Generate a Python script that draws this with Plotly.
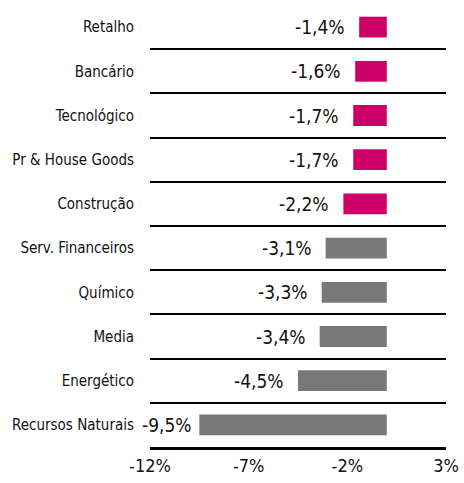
import plotly.graph_objects as go

categories = ["Retalho", "Bancário", "Tecnológico", "Pr & House Goods", "Construção",
              "Serv. Financeiros", "Químico", "Media", "Energético", "Recursos Naturais"]
values = [-1.4, -1.6, -1.7, -1.7, -2.2, -3.1, -3.3, -3.4, -4.5, -9.5]
bar_colors = ["#CC0066"] * 5 + ["#787878"] * 5
tick_vals = [-12, -7, -2, 3]
tick_text = ["-12%", "-7%", "-2%", "3%"]

FONT = "Liberation Sans Narrow, Arial Narrow, DejaVu Sans Condensed, sans-serif"

fig = go.Figure(go.Bar(
    x=values, y=categories, orientation="h",
    marker=dict(color=bar_colors, line=dict(width=0)),
    width=0.47, hoverinfo="skip",
))

for c, v in zip(categories, values):
    gap = -5 if v == min(values) else -12
    fig.add_annotation(
        x=v, y=c, xref="x", yref="y",
        text=f"{v:.1f}".replace(".", ",") + "%",
        showarrow=False, xanchor="right", yanchor="middle", xshift=gap,
        font=dict(family=FONT, size=19, color="#111111"),
    )

fig.update_layout(
    width=464, height=483,
    margin=dict(l=150, r=14, t=5, b=36),
    plot_bgcolor="white", paper_bgcolor="white",
    showlegend=False,
    font=dict(family=FONT, color="#111111"),
    xaxis=dict(
        range=[-12, 3], tickvals=tick_vals, ticktext=tick_text,
        showgrid=False, zeroline=False, showline=True, linecolor="black", linewidth=3,
        ticks="", tickfont=dict(size=18, family=FONT), fixedrange=True,
        ticklabeloverflow="allow",
    ),
    yaxis=dict(
        categoryorder="array", categoryarray=categories, autorange="reversed",
        tickson="boundaries", showgrid=True, gridcolor="black", gridwidth=2,
        ticks="", showline=False, zeroline=False, ticklabelstandoff=15,
        tickfont=dict(size=15, family=FONT), fixedrange=True,
    ),
)

fig.write_html(
    "out.html",
    config={"displayModeBar": False, "staticPlot": True},
    post_script="document.body.style.margin='0';document.body.style.overflow='hidden';",
)
